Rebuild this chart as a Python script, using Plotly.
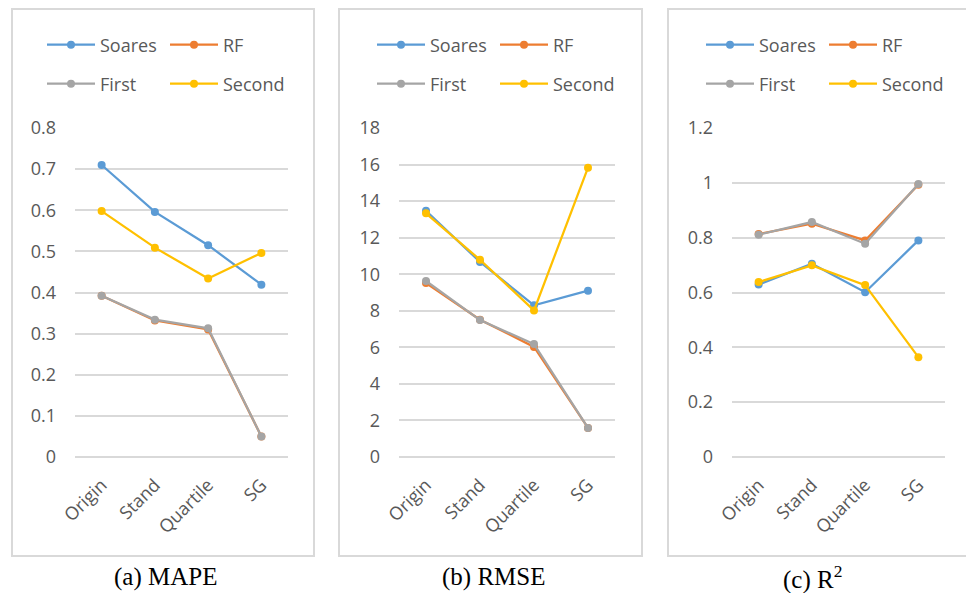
import plotly.graph_objects as go

# Preprocessing variants on the x axis
categories = ["Origin", "Stand", "Quartile", "SG"]
series_names = ["Soares", "RF", "First", "Second"]
series_colors = ["#5B9BD5", "#ED7D31", "#A5A5A5", "#FFC000"]

# (a) MAPE
mape_soares = [0.710, 0.596, 0.515, 0.419]
mape_rf = [0.392, 0.332, 0.310, 0.050]
mape_first = [0.392, 0.334, 0.313, 0.050]
mape_second = [0.598, 0.509, 0.434, 0.496]

# (b) RMSE
rmse_soares = [13.47, 10.67, 8.30, 9.10]
rmse_rf = [9.52, 7.51, 6.02, 1.59]
rmse_first = [9.63, 7.49, 6.18, 1.59]
rmse_second = [13.33, 10.79, 8.02, 15.83]

# (c) R^2
r2_soares = [0.629, 0.705, 0.601, 0.790]
r2_rf = [0.813, 0.851, 0.790, 0.993]
r2_first = [0.811, 0.857, 0.778, 0.996]
r2_second = [0.638, 0.699, 0.627, 0.364]

captions = ["(a) MAPE", "(b) RMSE", "(c) R<sup>2</sup>"]
y_ranges = [[0, 0.8], [0, 18], [0, 1.2]]
y_dticks = [0.1, 2, 0.2]

panels = [
    [mape_soares, mape_rf, mape_first, mape_second],
    [rmse_soares, rmse_rf, rmse_first, rmse_second],
    [r2_soares, r2_rf, r2_first, r2_second],
]

W, H = 966, 593
GRID = "#D9D9D9"
TEXT = "#595959"
SANS = "Open Sans"

# pixel layout of each panel
plot_x = [(75, 288), (399, 615), (732, 945)]
plot_y = (128, 457)
box_x = [(12, 314), (339, 642), (668, 966)]
box_y = (9, 556)
caption_x = [165, 493, 812]
legend_x = [42, 372, 701]
legend_rows = [45, 84]


def px(x):
    return x / W


def py(y):
    return 1 - y / H


fig = go.Figure()
layout = {}

for p, data in enumerate(panels):
    ax = "" if p == 0 else str(p + 1)
    row_ids = []
    for r in range(2):
        n = p * 2 + r + 1
        lid = "legend" if n == 1 else f"legend{n}"
        row_ids.append(lid)
        layout[lid] = dict(
            orientation="h",
            x=px(legend_x[p]), xanchor="left",
            y=py(legend_rows[r]), yanchor="middle",
            bgcolor="rgba(0,0,0,0)",
            font=dict(family=SANS, size=18, color=TEXT),
            itemwidth=48,
            entrywidth=60,
            tracegroupgap=0,
        )
    for s, (name, color, vals) in enumerate(zip(series_names, series_colors, data)):
        fig.add_trace(go.Scatter(
            x=categories, y=vals, name=name,
            mode="lines+markers",
            line=dict(color=color, width=2.25),
            marker=dict(color=color, size=8),
            xaxis="x" + ax, yaxis="y" + ax,
            legend=row_ids[s // 2],
            cliponaxis=False,
        ))

    layout["xaxis" + ax] = dict(
        domain=[px(plot_x[p][0]), px(plot_x[p][1])],
        anchor="y" + ax,
        type="category",
        range=[-0.5, 3.5],
        showgrid=False, zeroline=False, showline=False,
        ticks="",
        tickangle=-45,
        ticklabelstandoff=13,
        tickfont=dict(family=SANS, size=18, color=TEXT),
        automargin=False,
        fixedrange=True,
    )
    layout["yaxis" + ax] = dict(
        domain=[py(plot_y[1]), py(plot_y[0])],
        anchor="x" + ax,
        range=y_ranges[p],
        dtick=y_dticks[p],
        showgrid=True, gridcolor=GRID, gridwidth=2,
        zeroline=True, zerolinecolor=GRID, zerolinewidth=2,
        showline=False, ticks="",
        ticklabelstandoff=18,
        tickfont=dict(family=SANS, size=18, color=TEXT),
        automargin=False,
        fixedrange=True,
    )

shapes = []
annotations = []
for p in range(3):
    x0, x1 = px(box_x[p][0]), px(box_x[p][1])
    y0, y1 = py(box_y[1]), py(box_y[0])
    if p < 2:
        shapes.append(dict(
            type="rect", xref="paper", yref="paper",
            x0=x0, x1=x1, y0=y0, y1=y1,
            line=dict(color=GRID, width=2),
            fillcolor="rgba(0,0,0,0)",
            layer="below",
        ))
    else:
        # last frame runs off the right edge: top, left and bottom sides only
        shapes.append(dict(
            type="path", xref="paper", yref="paper",
            path=f"M {x1},{y1} L {x0},{y1} L {x0},{y0} L {x1},{y0}",
            line=dict(color=GRID, width=2),
            layer="below",
        ))
    annotations.append(dict(
        text=captions[p], xref="paper", yref="paper",
        x=px(caption_x[p]), y=py(577),
        xanchor="center", yanchor="middle",
        showarrow=False,
        font=dict(family="Liberation Serif", size=25, color="#000000"),
    ))

fig.update_layout(
    width=W, height=H,
    margin=dict(l=0, r=0, t=0, b=0, pad=0, autoexpand=False),
    paper_bgcolor="white", plot_bgcolor="white",
    shapes=shapes, annotations=annotations,
    **layout,
)

fig.write_html("out.html")
